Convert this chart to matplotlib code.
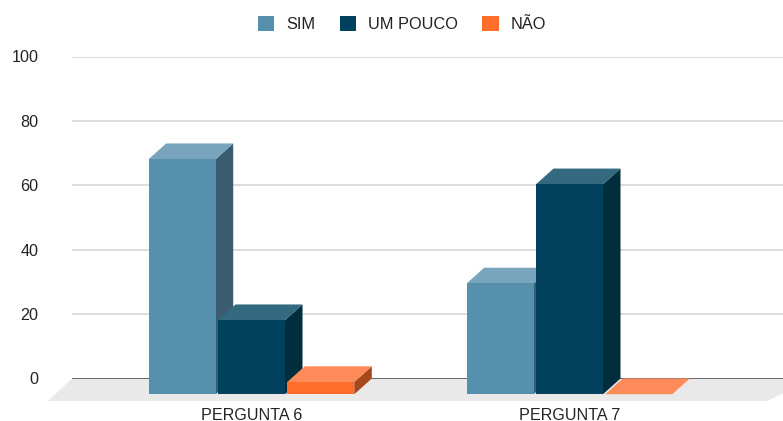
"""
Grouped pseudo-3D bar chart, PERGUNTA 6 and PERGUNTA 7
"""

import matplotlib.pyplot as plt
from matplotlib.patches import Patch, Polygon

categories = ["PERGUNTA 6", "PERGUNTA 7"]
series_names = ["SIM", "UM POUCO", "NÃO"]
sim_values = [73, 34.4]
um_pouco_values = [23, 65.2]
nao_values = [3.8, 0]
y_ticks = [0, 20, 40, 60, 80, 100]

# front, top, side colour of each series
COLORS = {
    "SIM": ("#5790ac", "#78a5bb", "#3a5c70"),
    "UM POUCO": ("#01415e", "#336a80", "#012d3d"),
    "NÃO": ("#ff6d2b", "#ff8b5b", "#a8471a"),
}

FIG_W, FIG_H = 783, 421
DPI = 100.0
AX_LEFT, AX_RIGHT = 72, 783
AX_TOP, AX_ZERO = 56.5, 378.5
GROUP_PX = 318.0
GROUP0_PX = 251.5
PX_Y = (AX_ZERO - AX_TOP) / 100.0
PX_X = 1 / GROUP_PX

# depth of the fake 3D boxes, in data units
DEPTH_X = 17.5 * PX_X
DEPTH_Y = 15.7 / PX_Y
BAR_W = 67 * PX_X
BAR_STEP = 69.3 * PX_X

plt.rcParams['font.family'] = ['Liberation Sans', 'DejaVu Sans']

fig = plt.figure(figsize=(FIG_W / DPI, FIG_H / DPI), dpi=DPI)
ax = fig.add_axes([AX_LEFT / FIG_W, (FIG_H - AX_ZERO) / FIG_H,
                   (AX_RIGHT - AX_LEFT) / FIG_W, (AX_ZERO - AX_TOP) / FIG_H])
ax.set_xlim((AX_LEFT - GROUP0_PX) * PX_X, (AX_RIGHT - GROUP0_PX) * PX_X)
ax.set_ylim(0, 100)

for side in ax.spines.values():
    side.set_visible(False)

ax.set_yticks(y_ticks)
ax.set_xticks(range(len(categories)))
ax.set_xticklabels(categories)
ax.tick_params(axis='x', length=0, pad=21.6, labelsize=11.6, labelcolor='#222222')
ax.tick_params(axis='y', length=0, pad=24, labelsize=11.6, labelcolor='#222222')
ax.grid(axis='y', color='#d2d2d2', linewidth=1.1)
ax.set_axisbelow(True)
ax.axhline(0, color='#444444', linewidth=1.1, zorder=2)

# floor under the bars
x0, x1 = ax.get_xlim()
floor_low = -22.5 / PX_Y
floor = Polygon([(x0 - 24 * PX_X, floor_low), (x0, 0), (x1 + 30 * PX_X, 0),
                 (x1 - 16 * PX_X, floor_low)],
                facecolor='#e9e9e9', edgecolor='none', clip_on=False, zorder=1)
ax.add_patch(floor)

all_values = [sim_values, um_pouco_values, nao_values]
order = 3
for g in range(len(categories)):
    for s, name in enumerate(series_names):
        value = all_values[s][g]
        front, top, dark = COLORS[name]
        left = g + (s - 1) * BAR_STEP - BAR_W / 2
        right = left + BAR_W
        low = -DEPTH_Y
        high = value - DEPTH_Y
        if value > 0:
            ax.bar(left, value, width=BAR_W, bottom=low, align='edge', color=front,
                   linewidth=0, clip_on=False, zorder=order + 2)
            ax.add_patch(Polygon([(right, low), (right + DEPTH_X, 0),
                                  (right + DEPTH_X, value), (right, high)],
                                 facecolor=dark, edgecolor='none', clip_on=False,
                                 zorder=order))
        ax.add_patch(Polygon([(left, high), (left + DEPTH_X, value),
                              (right + DEPTH_X, value), (right, high)],
                             facecolor=top, edgecolor='none', clip_on=False,
                             zorder=order + 1))
        order += 3

handles = [Patch(facecolor=COLORS[n][0], edgecolor='none') for n in series_names]
fig.legend(handles, series_names, loc='center', bbox_to_anchor=(402 / FIG_W, 1 - 24 / FIG_H),
           ncol=3, frameon=False, fontsize=11.8, handlelength=1.0, handleheight=1.0,
           handletextpad=0.72, columnspacing=1.5, labelcolor='#222222')

fig.savefig("out.png", dpi=DPI)
